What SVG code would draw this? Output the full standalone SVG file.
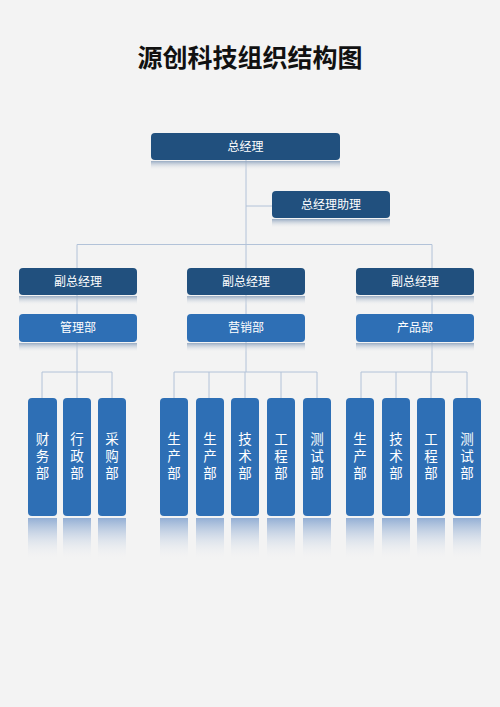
<svg xmlns="http://www.w3.org/2000/svg" width="500" height="707" viewBox="0 0 500 707">
<defs>
<linearGradient id="rv" x1="0" y1="0" x2="0" y2="1">
<stop offset="0" stop-color="#8eabd3" stop-opacity="0.95"/>
<stop offset="1" stop-color="#f3f3f3" stop-opacity="0"/>
</linearGradient>
<linearGradient id="rh" x1="0" y1="0" x2="0" y2="1">
<stop offset="0" stop-color="#8ea3bd" stop-opacity="0.9"/>
<stop offset="1" stop-color="#f3f3f3" stop-opacity="0"/>
</linearGradient>
<style>
.dk{fill:#21507e}
.lt{fill:#2e6fb5}
.ref{fill:url(#rh)}
.refv{fill:url(#rv)}
.t{font-family:"Noto Sans CJK SC","Noto Sans",sans-serif;fill:#ffffff;font-size:12px;text-anchor:middle}
.tv{font-family:"Noto Sans CJK SC","Noto Sans",sans-serif;fill:#ffffff;font-size:13.5px;text-anchor:middle;writing-mode:vertical-rl;letter-spacing:3.5px}
.ln{stroke:#b2c2d8;stroke-width:1;fill:none}
</style>
</defs>
<rect width="500" height="707" fill="#f3f3f3"/>
<text x="250" y="67" font-family="'Noto Sans CJK SC',sans-serif" font-weight="bold" font-size="25" text-anchor="middle" fill="#111">源创科技组织结构图</text>

<g id="connectors">
<path class="ln" d="M246,160V372M246,206H272M77,244.5H432M77,244.5V372M432,244.5V372"/>
<path class="ln" d="M42,372H112M42,372V398M77,372V398M112,372V398"/>
<path class="ln" d="M174,372H317M174,372V398M209,372V398M245,372V398M281,372V398M317,372V398"/>
<path class="ln" d="M361,372H467M361,372V398M396,372V398M431,372V398M467,372V398"/>
</g>

<g id="gm"><rect class="ref" x="151" y="161" width="189" height="9"/><rect class="dk" x="151" y="133" width="189" height="27" rx="4"/><text class="t" x="245.5" y="151">总经理</text></g>
<g id="asst"><rect class="ref" x="272" y="219" width="118" height="9"/><rect class="dk" x="272" y="191" width="118" height="27" rx="4"/><text class="t" x="331" y="209">总经理助理</text></g>

<g id="vp1"><rect class="ref" x="19" y="296" width="118" height="9"/><rect class="dk" x="19" y="268" width="118" height="27" rx="4"/><text class="t" x="78" y="286">副总经理</text></g>
<g id="vp2"><rect class="ref" x="187" y="296" width="118" height="9"/><rect class="dk" x="187" y="268" width="118" height="27" rx="4"/><text class="t" x="246" y="286">副总经理</text></g>
<g id="vp3"><rect class="ref" x="356" y="296" width="118" height="9"/><rect class="dk" x="356" y="268" width="118" height="27" rx="4"/><text class="t" x="415" y="286">副总经理</text></g>

<g id="d1"><rect class="ref" x="19" y="343" width="118" height="9"/><rect class="lt" x="19" y="314" width="118" height="28" rx="4"/><text class="t" x="78" y="332">管理部</text></g>
<g id="d2"><rect class="ref" x="187" y="343" width="118" height="9"/><rect class="lt" x="187" y="314" width="118" height="28" rx="4"/><text class="t" x="246" y="332">营销部</text></g>
<g id="d3"><rect class="ref" x="356" y="343" width="118" height="9"/><rect class="lt" x="356" y="314" width="118" height="28" rx="4"/><text class="t" x="415" y="332">产品部</text></g>

<g id="s1"><rect class="refv" x="28" y="518" width="29" height="42"/><rect class="lt" x="28" y="398" width="29" height="118" rx="4"/><text class="tv" x="42.5" y="458">财务部</text></g>
<g id="s2"><rect class="refv" x="63" y="518" width="28" height="42"/><rect class="lt" x="63" y="398" width="28" height="118" rx="4"/><text class="tv" x="77" y="458">行政部</text></g>
<g id="s3"><rect class="refv" x="98" y="518" width="28" height="42"/><rect class="lt" x="98" y="398" width="28" height="118" rx="4"/><text class="tv" x="112" y="458">采购部</text></g>

<g id="s4"><rect class="refv" x="160" y="518" width="28" height="42"/><rect class="lt" x="160" y="398" width="28" height="118" rx="4"/><text class="tv" x="174" y="458">生产部</text></g>
<g id="s5"><rect class="refv" x="196" y="518" width="28" height="42"/><rect class="lt" x="196" y="398" width="28" height="118" rx="4"/><text class="tv" x="210" y="458">生产部</text></g>
<g id="s6"><rect class="refv" x="231" y="518" width="28" height="42"/><rect class="lt" x="231" y="398" width="28" height="118" rx="4"/><text class="tv" x="245" y="458">技术部</text></g>
<g id="s7"><rect class="refv" x="267" y="518" width="28" height="42"/><rect class="lt" x="267" y="398" width="28" height="118" rx="4"/><text class="tv" x="281" y="458">工程部</text></g>
<g id="s8"><rect class="refv" x="303" y="518" width="28" height="42"/><rect class="lt" x="303" y="398" width="28" height="118" rx="4"/><text class="tv" x="317" y="458">测试部</text></g>

<g id="s9"><rect class="refv" x="346" y="518" width="28" height="42"/><rect class="lt" x="346" y="398" width="28" height="118" rx="4"/><text class="tv" x="360" y="458">生产部</text></g>
<g id="s10"><rect class="refv" x="382" y="518" width="28" height="42"/><rect class="lt" x="382" y="398" width="28" height="118" rx="4"/><text class="tv" x="396" y="458">技术部</text></g>
<g id="s11"><rect class="refv" x="417" y="518" width="28" height="42"/><rect class="lt" x="417" y="398" width="28" height="118" rx="4"/><text class="tv" x="431" y="458">工程部</text></g>
<g id="s12"><rect class="refv" x="453" y="518" width="28" height="42"/><rect class="lt" x="453" y="398" width="28" height="118" rx="4"/><text class="tv" x="467" y="458">测试部</text></g>
</svg>
